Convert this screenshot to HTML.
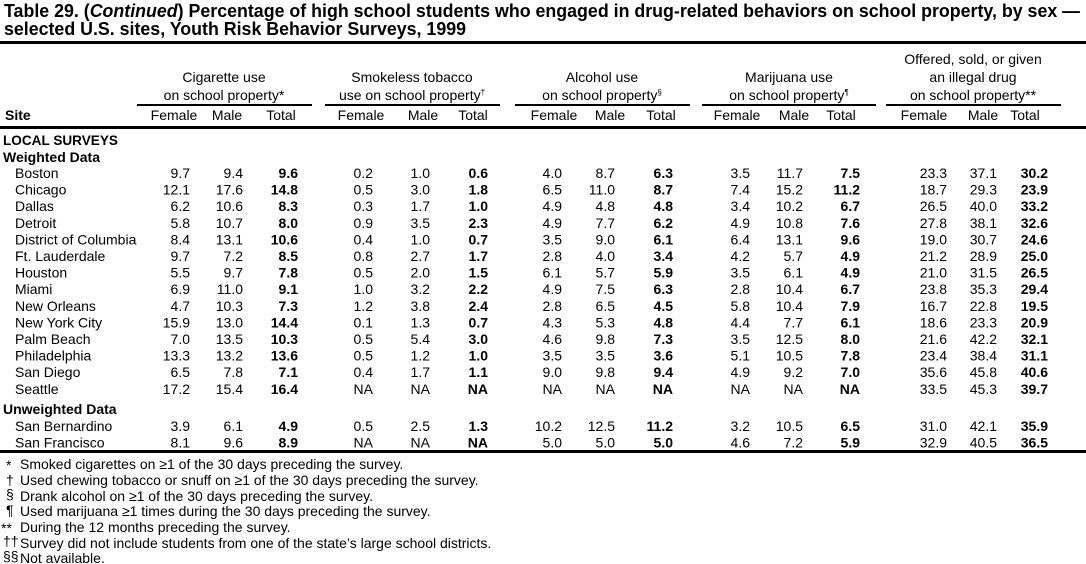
<!DOCTYPE html>
<html><head><meta charset="utf-8"><style>
html,body{margin:0;padding:0;background:#fff;}
svg{display:block;}
text{font-family:"Liberation Sans",Arial,sans-serif;font-size:14px;fill:#000;}
.t{font-weight:bold;font-size:18px;}
.b{font-weight:bold;}
.h{text-anchor:middle;}
.r{text-anchor:end;}
.r tspan.k{font-weight:bold;}
</style></head><body>
<svg width="1086" height="564" viewBox="0 0 1086 564" xmlns="http://www.w3.org/2000/svg">
<text class="t" x="4" y="17" textLength="1076" lengthAdjust="spacingAndGlyphs">Table 29. (<tspan font-style="italic">Continued</tspan>) Percentage of high school students who engaged in drug-related behaviors on school property, by sex —</text>
<text class="t" x="4" y="35" textLength="462" lengthAdjust="spacingAndGlyphs">selected U.S. sites, Youth Risk Behavior Surveys, 1999</text>
<rect x="0" y="41" width="1086" height="3"/>
<text class="h" x="224" y="82">Cigarette use</text>
<text class="h" x="224" y="100">on school property*</text>
<text class="h" x="412" y="82">Smokeless tobacco</text>
<text class="h" x="412" y="100">use on school property<tspan font-size="8" dy="-5">†</tspan></text>
<text class="h" x="602" y="82">Alcohol use</text>
<text class="h" x="602" y="100">on school property<tspan font-size="8" dy="-5">§</tspan></text>
<text class="h" x="789" y="82">Marijuana use</text>
<text class="h" x="789" y="100">on school property<tspan font-size="8" dy="-5">¶</tspan></text>
<text class="h" x="973" y="64">Offered, sold, or given</text>
<text class="h" x="973" y="82">an illegal drug</text>
<text class="h" x="973" y="100">on school property**</text>
<rect x="137" y="104" width="175" height="2"/>
<rect x="325" y="104" width="175" height="2"/>
<rect x="515" y="104" width="175" height="2"/>
<rect x="702" y="104" width="174" height="2"/>
<rect x="886" y="104" width="175" height="2"/>
<text class="b" x="5" y="120">Site</text>
<text class="h" x="174" y="120">Female</text><text class="h" x="227" y="120">Male</text><text class="h" x="281" y="120">Total</text>
<text class="h" x="361" y="120">Female</text><text class="h" x="423" y="120">Male</text><text class="h" x="473" y="120">Total</text>
<text class="h" x="554" y="120">Female</text><text class="h" x="610" y="120">Male</text><text class="h" x="661" y="120">Total</text>
<text class="h" x="737" y="120">Female</text><text class="h" x="794" y="120">Male</text><text class="h" x="841" y="120">Total</text>
<text class="h" x="924" y="120">Female</text><text class="h" x="983" y="120">Male</text><text class="h" x="1025" y="120">Total</text>
<rect x="0" y="126" width="1086" height="3"/>
<text class="b" x="3" y="145" textLength="115" lengthAdjust="spacingAndGlyphs">LOCAL SURVEYS</text>
<text class="b" x="3" y="162">Weighted Data</text>
<text class="b" x="3" y="414">Unweighted Data</text>
<rect x="0" y="450" width="1086" height="3"/>

<text x="15" y="178">Boston</text>
<text class="r" y="178"><tspan x="190">9.7</tspan><tspan x="243">9.4</tspan><tspan class="k" x="298">9.6</tspan><tspan x="373">0.2</tspan><tspan x="430">1.0</tspan><tspan class="k" x="488">0.6</tspan><tspan x="562">4.0</tspan><tspan x="615">8.7</tspan><tspan class="k" x="673">6.3</tspan><tspan x="750">3.5</tspan><tspan x="803">11.7</tspan><tspan class="k" x="860">7.5</tspan><tspan x="947">23.3</tspan><tspan x="997">37.1</tspan><tspan class="k" x="1048">30.2</tspan></text>
<text x="15" y="194.6">Chicago</text>
<text class="r" y="194.6"><tspan x="190">12.1</tspan><tspan x="243">17.6</tspan><tspan class="k" x="298">14.8</tspan><tspan x="373">0.5</tspan><tspan x="430">3.0</tspan><tspan class="k" x="488">1.8</tspan><tspan x="562">6.5</tspan><tspan x="615">11.0</tspan><tspan class="k" x="673">8.7</tspan><tspan x="750">7.4</tspan><tspan x="803">15.2</tspan><tspan class="k" x="860">11.2</tspan><tspan x="947">18.7</tspan><tspan x="997">29.3</tspan><tspan class="k" x="1048">23.9</tspan></text>
<text x="15" y="211.2">Dallas</text>
<text class="r" y="211.2"><tspan x="190">6.2</tspan><tspan x="243">10.6</tspan><tspan class="k" x="298">8.3</tspan><tspan x="373">0.3</tspan><tspan x="430">1.7</tspan><tspan class="k" x="488">1.0</tspan><tspan x="562">4.9</tspan><tspan x="615">4.8</tspan><tspan class="k" x="673">4.8</tspan><tspan x="750">3.4</tspan><tspan x="803">10.2</tspan><tspan class="k" x="860">6.7</tspan><tspan x="947">26.5</tspan><tspan x="997">40.0</tspan><tspan class="k" x="1048">33.2</tspan></text>
<text x="15" y="227.8">Detroit</text>
<text class="r" y="227.8"><tspan x="190">5.8</tspan><tspan x="243">10.7</tspan><tspan class="k" x="298">8.0</tspan><tspan x="373">0.9</tspan><tspan x="430">3.5</tspan><tspan class="k" x="488">2.3</tspan><tspan x="562">4.9</tspan><tspan x="615">7.7</tspan><tspan class="k" x="673">6.2</tspan><tspan x="750">4.9</tspan><tspan x="803">10.8</tspan><tspan class="k" x="860">7.6</tspan><tspan x="947">27.8</tspan><tspan x="997">38.1</tspan><tspan class="k" x="1048">32.6</tspan></text>
<text x="15" y="244.4">District of Columbia</text>
<text class="r" y="244.4"><tspan x="190">8.4</tspan><tspan x="243">13.1</tspan><tspan class="k" x="298">10.6</tspan><tspan x="373">0.4</tspan><tspan x="430">1.0</tspan><tspan class="k" x="488">0.7</tspan><tspan x="562">3.5</tspan><tspan x="615">9.0</tspan><tspan class="k" x="673">6.1</tspan><tspan x="750">6.4</tspan><tspan x="803">13.1</tspan><tspan class="k" x="860">9.6</tspan><tspan x="947">19.0</tspan><tspan x="997">30.7</tspan><tspan class="k" x="1048">24.6</tspan></text>
<text x="15" y="261">Ft. Lauderdale</text>
<text class="r" y="261"><tspan x="190">9.7</tspan><tspan x="243">7.2</tspan><tspan class="k" x="298">8.5</tspan><tspan x="373">0.8</tspan><tspan x="430">2.7</tspan><tspan class="k" x="488">1.7</tspan><tspan x="562">2.8</tspan><tspan x="615">4.0</tspan><tspan class="k" x="673">3.4</tspan><tspan x="750">4.2</tspan><tspan x="803">5.7</tspan><tspan class="k" x="860">4.9</tspan><tspan x="947">21.2</tspan><tspan x="997">28.9</tspan><tspan class="k" x="1048">25.0</tspan></text>
<text x="15" y="277.6">Houston</text>
<text class="r" y="277.6"><tspan x="190">5.5</tspan><tspan x="243">9.7</tspan><tspan class="k" x="298">7.8</tspan><tspan x="373">0.5</tspan><tspan x="430">2.0</tspan><tspan class="k" x="488">1.5</tspan><tspan x="562">6.1</tspan><tspan x="615">5.7</tspan><tspan class="k" x="673">5.9</tspan><tspan x="750">3.5</tspan><tspan x="803">6.1</tspan><tspan class="k" x="860">4.9</tspan><tspan x="947">21.0</tspan><tspan x="997">31.5</tspan><tspan class="k" x="1048">26.5</tspan></text>
<text x="15" y="294.2">Miami</text>
<text class="r" y="294.2"><tspan x="190">6.9</tspan><tspan x="243">11.0</tspan><tspan class="k" x="298">9.1</tspan><tspan x="373">1.0</tspan><tspan x="430">3.2</tspan><tspan class="k" x="488">2.2</tspan><tspan x="562">4.9</tspan><tspan x="615">7.5</tspan><tspan class="k" x="673">6.3</tspan><tspan x="750">2.8</tspan><tspan x="803">10.4</tspan><tspan class="k" x="860">6.7</tspan><tspan x="947">23.8</tspan><tspan x="997">35.3</tspan><tspan class="k" x="1048">29.4</tspan></text>
<text x="15" y="310.8">New Orleans</text>
<text class="r" y="310.8"><tspan x="190">4.7</tspan><tspan x="243">10.3</tspan><tspan class="k" x="298">7.3</tspan><tspan x="373">1.2</tspan><tspan x="430">3.8</tspan><tspan class="k" x="488">2.4</tspan><tspan x="562">2.8</tspan><tspan x="615">6.5</tspan><tspan class="k" x="673">4.5</tspan><tspan x="750">5.8</tspan><tspan x="803">10.4</tspan><tspan class="k" x="860">7.9</tspan><tspan x="947">16.7</tspan><tspan x="997">22.8</tspan><tspan class="k" x="1048">19.5</tspan></text>
<text x="15" y="327.4">New York City</text>
<text class="r" y="327.4"><tspan x="190">15.9</tspan><tspan x="243">13.0</tspan><tspan class="k" x="298">14.4</tspan><tspan x="373">0.1</tspan><tspan x="430">1.3</tspan><tspan class="k" x="488">0.7</tspan><tspan x="562">4.3</tspan><tspan x="615">5.3</tspan><tspan class="k" x="673">4.8</tspan><tspan x="750">4.4</tspan><tspan x="803">7.7</tspan><tspan class="k" x="860">6.1</tspan><tspan x="947">18.6</tspan><tspan x="997">23.3</tspan><tspan class="k" x="1048">20.9</tspan></text>
<text x="15" y="344">Palm Beach</text>
<text class="r" y="344"><tspan x="190">7.0</tspan><tspan x="243">13.5</tspan><tspan class="k" x="298">10.3</tspan><tspan x="373">0.5</tspan><tspan x="430">5.4</tspan><tspan class="k" x="488">3.0</tspan><tspan x="562">4.6</tspan><tspan x="615">9.8</tspan><tspan class="k" x="673">7.3</tspan><tspan x="750">3.5</tspan><tspan x="803">12.5</tspan><tspan class="k" x="860">8.0</tspan><tspan x="947">21.6</tspan><tspan x="997">42.2</tspan><tspan class="k" x="1048">32.1</tspan></text>
<text x="15" y="360.6">Philadelphia</text>
<text class="r" y="360.6"><tspan x="190">13.3</tspan><tspan x="243">13.2</tspan><tspan class="k" x="298">13.6</tspan><tspan x="373">0.5</tspan><tspan x="430">1.2</tspan><tspan class="k" x="488">1.0</tspan><tspan x="562">3.5</tspan><tspan x="615">3.5</tspan><tspan class="k" x="673">3.6</tspan><tspan x="750">5.1</tspan><tspan x="803">10.5</tspan><tspan class="k" x="860">7.8</tspan><tspan x="947">23.4</tspan><tspan x="997">38.4</tspan><tspan class="k" x="1048">31.1</tspan></text>
<text x="15" y="377.2">San Diego</text>
<text class="r" y="377.2"><tspan x="190">6.5</tspan><tspan x="243">7.8</tspan><tspan class="k" x="298">7.1</tspan><tspan x="373">0.4</tspan><tspan x="430">1.7</tspan><tspan class="k" x="488">1.1</tspan><tspan x="562">9.0</tspan><tspan x="615">9.8</tspan><tspan class="k" x="673">9.4</tspan><tspan x="750">4.9</tspan><tspan x="803">9.2</tspan><tspan class="k" x="860">7.0</tspan><tspan x="947">35.6</tspan><tspan x="997">45.8</tspan><tspan class="k" x="1048">40.6</tspan></text>
<text x="15" y="393.8">Seattle</text>
<text class="r" y="393.8"><tspan x="190">17.2</tspan><tspan x="243">15.4</tspan><tspan class="k" x="298">16.4</tspan><tspan x="373">NA</tspan><tspan x="430">NA</tspan><tspan class="k" x="488">NA</tspan><tspan x="562">NA</tspan><tspan x="615">NA</tspan><tspan class="k" x="673">NA</tspan><tspan x="750">NA</tspan><tspan x="803">NA</tspan><tspan class="k" x="860">NA</tspan><tspan x="947">33.5</tspan><tspan x="997">45.3</tspan><tspan class="k" x="1048">39.7</tspan></text>
<text x="15" y="431">San Bernardino</text>
<text class="r" y="431"><tspan x="190">3.9</tspan><tspan x="243">6.1</tspan><tspan class="k" x="298">4.9</tspan><tspan x="373">0.5</tspan><tspan x="430">2.5</tspan><tspan class="k" x="488">1.3</tspan><tspan x="562">10.2</tspan><tspan x="615">12.5</tspan><tspan class="k" x="673">11.2</tspan><tspan x="750">3.2</tspan><tspan x="803">10.5</tspan><tspan class="k" x="860">6.5</tspan><tspan x="947">31.0</tspan><tspan x="997">42.1</tspan><tspan class="k" x="1048">35.9</tspan></text>
<text x="15" y="447.4">San Francisco</text>
<text class="r" y="447.4"><tspan x="190">8.1</tspan><tspan x="243">9.6</tspan><tspan class="k" x="298">8.9</tspan><tspan x="373">NA</tspan><tspan x="430">NA</tspan><tspan class="k" x="488">NA</tspan><tspan x="562">5.0</tspan><tspan x="615">5.0</tspan><tspan class="k" x="673">5.0</tspan><tspan x="750">4.6</tspan><tspan x="803">7.2</tspan><tspan class="k" x="860">5.9</tspan><tspan x="947">32.9</tspan><tspan x="997">40.5</tspan><tspan class="k" x="1048">36.5</tspan></text>

<text x="6" y="470">*</text><text x="20" y="469">Smoked cigarettes on ≥1 of the 30 days preceding the survey.</text>
<text x="6" y="485">†</text><text x="20" y="485">Used chewing tobacco or snuff on ≥1 of the 30 days preceding the survey.</text>
<text x="6" y="499" font-size="10">§</text><text x="20" y="501">Drank alcohol on ≥1 of the 30 days preceding the survey.</text>
<text x="6" y="515" font-size="11">¶</text><text x="20" y="516">Used marijuana ≥1 times during the 30 days preceding the survey.</text>
<text x="1" y="533">**</text><text x="20" y="532">During the 12 months preceding the survey.</text>
<text x="3" y="546" font-size="10">††</text><text x="20" y="548">Survey did not include students from one of the state’s large school districts.</text>
<text x="3" y="561" font-size="10">§§</text><text x="20" y="563">Not available.</text>
</svg>
</body></html>
